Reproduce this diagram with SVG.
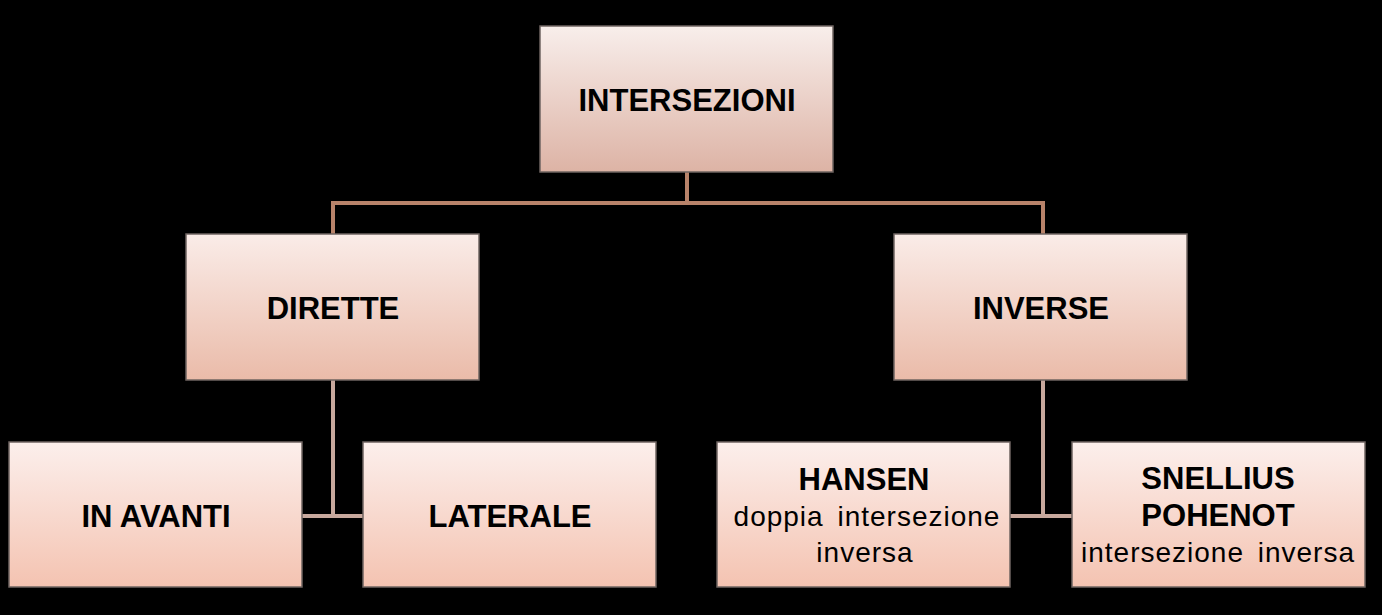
<svg xmlns="http://www.w3.org/2000/svg" width="1382" height="615" viewBox="0 0 1382 615">
<defs>
<linearGradient id="gTop" x1="0" y1="0" x2="0" y2="1"><stop offset="0" stop-color="#f8eeeb"/><stop offset="1" stop-color="#ddb3a5"/></linearGradient>
<linearGradient id="gMid" x1="0" y1="0" x2="0" y2="1"><stop offset="0" stop-color="#faece8"/><stop offset="1" stop-color="#eabba9"/></linearGradient>
<linearGradient id="gLow" x1="0" y1="0" x2="0" y2="1"><stop offset="0" stop-color="#fcefec"/><stop offset="1" stop-color="#f4c3b1"/></linearGradient>
<style>
.box{stroke:#6f6461;stroke-width:1.5}
.t{font-family:"Liberation Sans",Arial,sans-serif;font-weight:bold;font-size:31px;fill:#000;text-anchor:middle}
.s{font-family:"Liberation Sans",Arial,sans-serif;font-size:28px;fill:#000;text-anchor:middle;letter-spacing:1px;word-spacing:5px}
.c1{stroke:#b8836a;stroke-width:4;fill:none}
.c2{stroke:#c8a89d;stroke-width:4;fill:none}
</style>
</defs>
<rect width="1382" height="615" fill="#000"/>
<g id="connectors">
<path class="c1" d="M687 172V203M333 203H1043M333 201V234M1043 201V234"/>
<path class="c2" d="M333 380V516M302 516H363"/>
<path class="c2" d="M1043 380V516M1010 516H1072"/>
</g>
<g id="n-intersezioni"><rect class="box" x="540" y="26" width="293" height="146" fill="url(#gTop)"/><text class="t" x="687" y="111">INTERSEZIONI</text></g>
<g id="n-dirette"><rect class="box" x="186" y="234" width="293" height="146" fill="url(#gMid)"/><text class="t" x="333" y="319">DIRETTE</text></g>
<g id="n-inverse"><rect class="box" x="894" y="234" width="293" height="146" fill="url(#gMid)"/><text class="t" x="1041" y="319">INVERSE</text></g>
<g id="n-inavanti"><rect class="box" x="9" y="442" width="293" height="145" fill="url(#gLow)"/><text class="t" x="156" y="527">IN AVANTI</text></g>
<g id="n-laterale"><rect class="box" x="363" y="442" width="293" height="145" fill="url(#gLow)"/><text class="t" x="510" y="527">LATERALE</text></g>
<g id="n-hansen"><rect class="box" x="717" y="442" width="293" height="145" fill="url(#gLow)"/><text class="t" x="864" y="490">HANSEN</text><text class="s" x="867" y="526">doppia intersezione</text><text class="s" x="865" y="562">inversa</text></g>
<g id="n-snellius"><rect class="box" x="1072" y="442" width="293" height="145" fill="url(#gLow)"/><text class="t" x="1218" y="489">SNELLIUS</text><text class="t" x="1218" y="526">POHENOT</text><text class="s" x="1218" y="562">intersezione inversa</text></g>
</svg>
